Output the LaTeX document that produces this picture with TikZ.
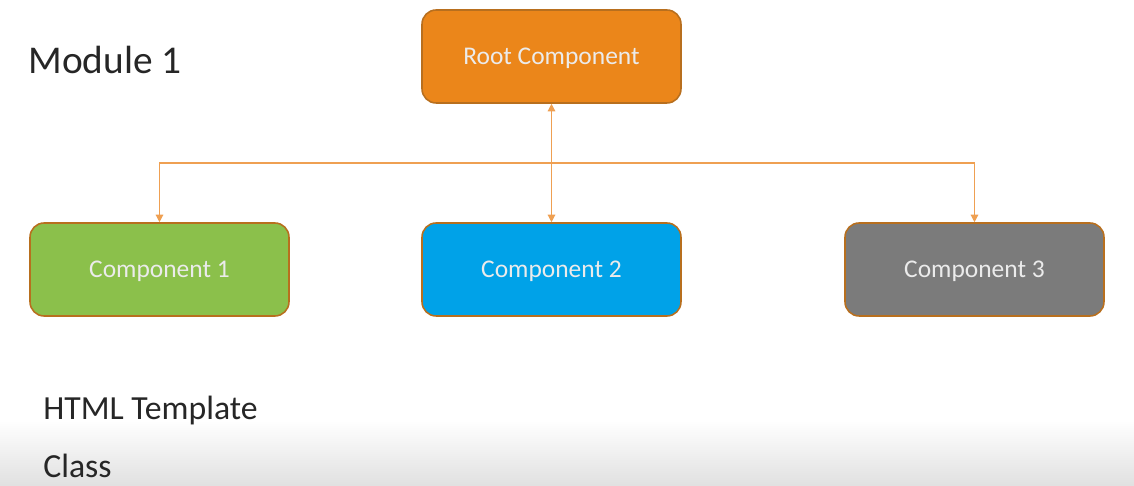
\documentclass[tikz,border=0pt]{standalone}
\usepackage{fontspec}
\setmainfont{Carlito}
\usepackage{tikz}
\usetikzlibrary{arrows.meta, positioning}

\definecolor{rootorange}{HTML}{EB861A}
\definecolor{edgebrown}{HTML}{B86F1E}
\definecolor{compgreen}{HTML}{8BC04B}
\definecolor{compblue}{HTML}{00A2E8}
\definecolor{compgray}{HTML}{7B7B7B}
\definecolor{linkorange}{HTML}{EFA052}

\begin{document}
\begin{tikzpicture}[
  x=0.02cm, y=-0.02cm,
  font=\fontsize{14.5}{17}\selectfont,
  comp/.style={draw=edgebrown, line width=0.9pt, rounded corners=8pt, minimum width=5.18cm,
               minimum height=1.86cm, text=white!92!black, inner sep=0pt,
               text height=0.9em, text depth=0pt},
  lbl/.style={anchor=west, inner sep=0pt, text=black!85},
  link/.style={draw=linkorange, line width=0.7pt, -{Triangle[length=1.5mm, width=1.5mm]}},
  biglink/.style={link, {Triangle[length=1.5mm, width=1.5mm]}-{Triangle[length=1.5mm, width=1.5mm]}}
]
\useasboundingbox (0,0) rectangle (1134,486);
% fading bottom strip
\shade[top color=white, bottom color=black!12, draw=none] (0,420) rectangle (1134,486);

\node[comp, fill=rootorange] (root) at (551.5,56.5) {Root Component};
\node[comp, fill=compgreen]  (c1)   at (159.5,269.5) {Component 1};
\node[comp, fill=compblue]   (c2)   at (551.5,269.5) {Component 2};
\node[comp, fill=compgray]   (c3)   at (974.5,269.5) {Component 3};

\node[lbl, font=\fontsize{22.4}{26}\selectfont] (mod) at (28,60) {Module 1};
\node[lbl, font=\fontsize{19.2}{23}\selectfont] (html) at (43,411) {HTML Template};
\node[lbl, font=\fontsize{19.2}{23}\selectfont] (cls) at (43,466) {Class};

\coordinate (bus) at (551.5,163);
\draw[biglink] (root.south) -- (c2.north);
\draw[link] (bus) -| (c1.north);
\draw[link] (bus) -| (c3.north);
\end{tikzpicture}
\end{document}
